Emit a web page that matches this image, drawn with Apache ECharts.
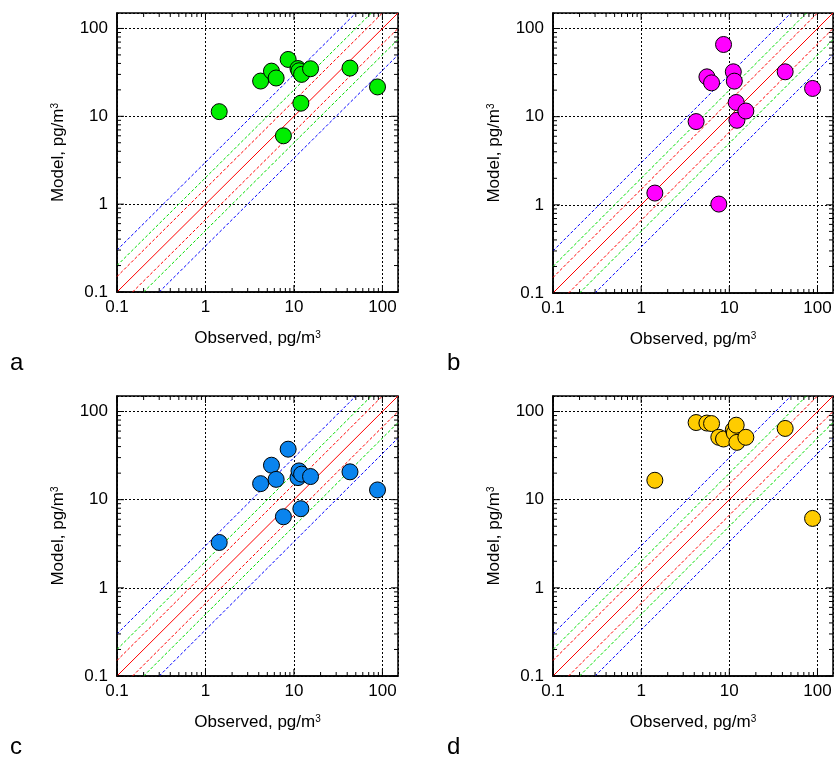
<!DOCTYPE html>
<html>
<head>
<meta charset="utf-8">
<script src="https://cdn.jsdelivr.net/npm/echarts@6/dist/echarts.min.js"></script>
<style>
html, body { margin: 0; padding: 0; background: #fff; }
#chart { width: 837px; height: 760px; }
</style>
</head>
<body>
<div id="chart"></div>
<script>
// observed concentrations, same stations in every panel
var observed = [1.43, 4.2, 5.57, 6.29, 7.6, 8.6, 11.1, 11.4, 11.97, 12.2, 15.4, 43, 88];
// modelled concentrations, one array per panel
var modelA = [11.3, 25.2, 32.7, 27.3, 6.0, 44.4, 35, 33, 14.1, 30, 34.8, 35.4, 21.6];
var modelB = [1.36, 8.8, 28.3, 24.2, 1.02, 65.9, 32.3, 25.3, 14.5, 9.1, 11.6, 32.3, 20.9];
var modelC = [3.27, 15.2, 24.6, 17.0, 6.4, 37.4, 17.8, 21.2, 7.9, 19.5, 18.3, 20.7, 12.9];
var modelD = [16.6, 75, 74, 73, 51, 48.8, 62, 57, 70, 44.7, 51, 64.3, 6.13];

var panelLetters = ['a', 'b', 'c', 'd'];
var decadeLabels = ['0.1', '1', '10', '100'];
// agreement lines y = k*x: 1:1, factor 1.5, 2, 3 (both sides)
var factors = [1, 1.5, 2, 3];

var axisMin = 0.1, axisMax = 150;
var font = 'Liberation Sans, Arial, sans-serif';

var models = [modelA, modelB, modelC, modelD];
var colors = ['#00ee00', '#ff00ff', '#0a84ee', '#ffcc00'];
var grids = [
    {left: 117, top: 13, width: 281, height: 279},
    {left: 553, top: 13, width: 280, height: 280},
    {left: 117, top: 396, width: 281, height: 280},
    {left: 553, top: 396, width: 280, height: 280}
];
var lineColors = ['#ff0000', '#ff0000', '#00dd00', '#0000ff'];

function decadeLabel(v) {
    var e = Math.log10(v);
    var r = Math.round(e);
    if (Math.abs(e - r) > 1e-6) return '';
    return decadeLabels[r + 1] || '';
}

// tick positions 1..9 x 10^k inside the axis range
var tickData = [];
for (var e = -1; e <= 2; e++) {
    for (var m = 1; m <= 9; m++) {
        var v = m * Math.pow(10, e);
        if (v <= axisMax) tickData.push([v, v, m === 1 ? 1 : 0]);
    }
}

// [k, index into lineColors]
var lineData = [];
factors.forEach(function (k, idx) {
    lineData.push([k, idx]);
    if (k !== 1) lineData.push([1 / k, idx]);
});

function tickLine(x1, y1, x2, y2) {
    return {
        type: 'line',
        shape: {x1: x1, y1: y1, x2: x2, y2: y2},
        style: {stroke: '#000', lineWidth: 1}
    };
}

function renderTicks(params, api) {
    var cs = params.coordSys;
    var p = api.coord([api.value(0), api.value(1)]);
    var len = api.value(2) ? 7 : 4;
    var b = cs.y + cs.height, r = cs.x + cs.width;
    return {
        type: 'group',
        children: [
            tickLine(p[0], b, p[0], b - len),
            tickLine(p[0], cs.y, p[0], cs.y + len),
            tickLine(cs.x, p[1], cs.x + len, p[1]),
            tickLine(r - len, p[1], r, p[1])
        ]
    };
}

// y = k * x, only the part inside the axis box
function renderAgreement(params, api) {
    var k = api.value(0);
    var idx = api.value(1);
    var x0 = k >= 1 ? axisMin : axisMin / k;
    var x1 = k >= 1 ? axisMax / k : axisMax;
    var p0 = api.coord([x0, x0 * k]);
    var p1 = api.coord([x1, x1 * k]);
    return {
        type: 'line',
        shape: {x1: p0[0], y1: p0[1], x2: p1[0], y2: p1[1]},
        style: {
            stroke: lineColors[idx],
            lineWidth: 1,
            lineDash: idx === 0 ? null : [3, 2],
            fill: null
        }
    };
}

function makeAxis(i, name, isX) {
    return {
        type: 'log',
        logBase: 10,
        gridIndex: i,
        min: axisMin,
        max: axisMax,
        name: name,
        nameLocation: 'middle',
        nameGap: isX ? 38 : 50,
        nameTextStyle: {
            fontFamily: font, fontSize: 17, color: '#000',
            rich: {s: {fontFamily: font, fontSize: 10, color: '#000', verticalAlign: 'top'}}
        },
        axisLine: {show: true, onZero: false, lineStyle: {color: '#000', width: 1.5}},
        axisTick: {show: false},
        minorTick: {show: false},
        axisLabel: {
            fontFamily: font, fontSize: 17, color: '#000', margin: isX ? 7 : 9,
            formatter: decadeLabel
        },
        splitLine: {show: true, lineStyle: {color: '#000', type: [2, 2], width: 1}}
    };
}

var xAxes = [], yAxes = [], series = [], graphics = [];
for (var i = 0; i < 4; i++) {
    xAxes.push(makeAxis(i, 'Observed, pg/m{s|3}', true));
    yAxes.push(makeAxis(i, 'Model, pg/m{s|3}', false));

    series.push({
        type: 'custom',
        xAxisIndex: i, yAxisIndex: i,
        data: lineData,
        encode: {x: -1, y: -1},
        renderItem: renderAgreement,
        silent: true,
        z: 2
    });

    series.push({
        type: 'custom',
        xAxisIndex: i, yAxisIndex: i,
        data: tickData,
        renderItem: renderTicks,
        silent: true,
        z: 3
    });

    series.push({
        type: 'scatter',
        xAxisIndex: i, yAxisIndex: i,
        data: observed.map(function (x, j) { return [x, models[i][j]]; }),
        symbolSize: 16,
        itemStyle: {color: colors[i], borderColor: '#000', borderWidth: 1, opacity: 1},
        z: 4
    });

    graphics.push({
        type: 'text',
        left: i % 2 === 0 ? 10 : 447,
        top: i < 2 ? 351 : 735,
        style: {text: panelLetters[i], fontFamily: font, fontSize: 24, fill: '#000'}
    });
}

var chart = echarts.init(document.getElementById('chart'));
chart.setOption({
    backgroundColor: '#fff',
    animation: false,
    grid: grids.map(function (g) {
        return {left: g.left, top: g.top, width: g.width, height: g.height,
            show: true, borderColor: '#000', borderWidth: 1.5, backgroundColor: 'transparent'};
    }),
    xAxis: xAxes,
    yAxis: yAxes,
    series: series,
    graphic: graphics
});
</script>
</body>
</html>
